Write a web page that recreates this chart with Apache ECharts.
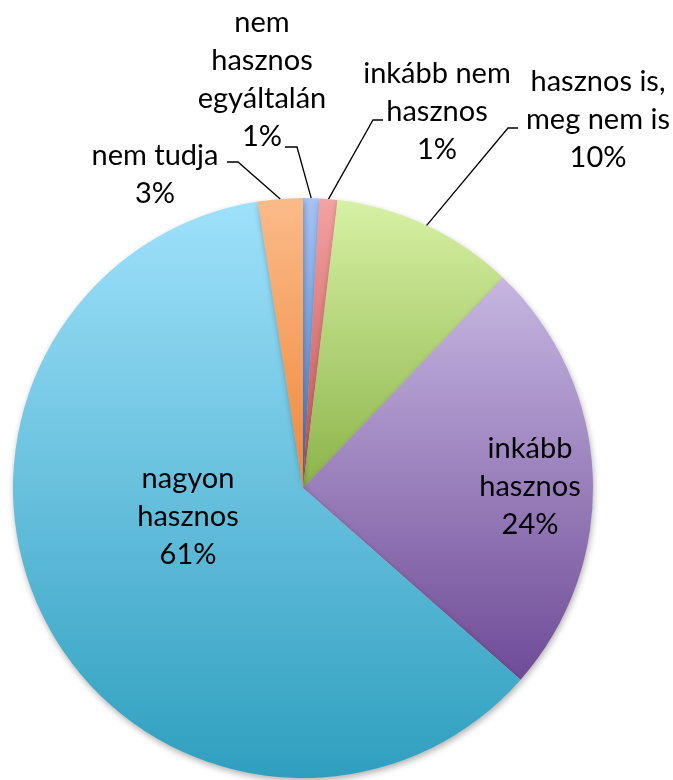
<!DOCTYPE html>
<html>
<head>
<meta charset="utf-8">
<script src="https://cdn.jsdelivr.net/npm/echarts@6/dist/echarts.min.js"></script>
<style>
  html, body { margin: 0; padding: 0; background: #fff; }
  #chart { width: 673px; height: 780px; }
</style>
</head>
<body>
<div id="chart"></div>
<script>
// adatok
var categories = ['nem\nhasznos\negyáltalán', 'inkább nem\nhasznos', 'hasznos is,\nmeg nem is', 'inkább\nhasznos', 'nagyon\nhasznos', 'nem tudja'];
var values = [0.9, 1.0, 10.2, 24.4, 61.0, 2.5];
var topColors = ['#a6c3f4', '#f4a2a2', '#d7f1a4', '#c6b6e1', '#9fe1fb', '#fabb89'];
var bottomColors = ['#4f7fcc', '#c0504d', '#8cb44a', '#6f4b97', '#2f9fbf', '#f0883a'];

// címkék helye (középpont) és a vezetővonal töréspontjai
var labelSpots = [
	{ x: 262, y: 80, line: [[297, 147], [285, 147]] },
	{ x: 437, y: 112, line: [[373, 120], [383, 120]] },
	{ x: 598, y: 120, line: [[508, 128], [518, 128]] },
	{ x: 530, y: 487 },
	{ x: 188, y: 517 },
	{ x: 155, y: 175, line: [[238, 162], [227, 162]] }
];

var myChart = echarts.init(document.getElementById('chart'));

var seriesData = categories.map(function (name, i) {
	return {
		name: name,
		value: values[i],
		itemStyle: {
			color: new echarts.graphic.LinearGradient(0, 0, 0, 1, [
				{ offset: 0, color: topColors[i] },
				{ offset: 1, color: bottomColors[i] }
			])
		},
		label: { position: labelSpots[i].line ? 'outside' : 'inside' },
		labelLine: { show: !!labelSpots[i].line }
	};
});

var option = {
	animation: false,
	series: [{
		type: 'pie',
		center: [303, 488],
		radius: 290,
		startAngle: 90,
		clockwise: true,
		avoidLabelOverlap: false,
		percentPrecision: 0,
		itemStyle: {
			borderWidth: 0,
			shadowBlur: 6,
			shadowOffsetX: 1,
			shadowOffsetY: 3,
			shadowColor: 'rgba(0,0,0,0.3)'
		},
		label: {
			formatter: '{b}\n{d}%',
			fontFamily: 'Lato',
			fontSize: 29,
			lineHeight: 38,
			color: '#000',
			align: 'center'
		},
		labelLine: {
			length: 20,
			length2: 10,
			lineStyle: { color: '#000', width: 1.3 }
		},
		labelLayout: function (params) {
			var spot = labelSpots[params.dataIndex];
			var res = { x: spot.x, y: spot.y, align: 'center', verticalAlign: 'middle' };
			if (spot.line && params.labelLinePoints) {
				res.labelLinePoints = [params.labelLinePoints[0], spot.line[0], spot.line[1]];
			}
			return res;
		},
		data: seriesData
	}]
};

myChart.setOption(option);
</script>
</body>
</html>
